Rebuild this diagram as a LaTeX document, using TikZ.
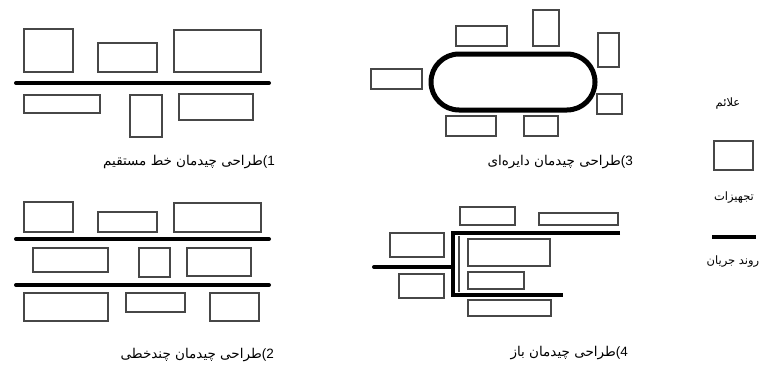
\documentclass[tikz,border=0pt]{standalone}
\usepackage{fontspec}
\setmainfont{Liberation Sans}
\newfontfamily\arabicfont[Script=Arabic]{DejaVu Sans}
\TeXXeTstate=1
\newcommand\fatext[1]{{\arabicfont\beginR #1\endR}}
\tikzset{
  equip/.style={draw=black!72, line width=1.7pt},
  flow/.style={draw=black, line width=4pt, line cap=round},
  caption/.style={font=\fontsize{13.5}{15}\selectfont, inner sep=0pt, anchor=east},
  legendtext/.style={font=\fontsize{11.5}{13}\selectfont, inner sep=0pt},
}
\begin{document}
\begin{tikzpicture}[x=1pt, y=-1pt]
\useasboundingbox (0,0) rectangle (767,364);

% ---- 1) straight-line layout
\draw[equip] (24,29) rectangle (73,72);
\draw[equip] (98,43) rectangle (157,72);
\draw[equip] (174,30) rectangle (261,72);
\draw[flow] (16,83) -- (269,83);
\draw[equip] (24,95) rectangle (100,113);
\draw[equip] (130,95) rectangle (162,137);
\draw[equip] (179,94) rectangle (253,120);
\node[caption] (cap1) at (275,162) {\fatext{طراحی چیدمان خط مستقیم}(1};

% ---- 2) multi-line layout
\draw[equip] (24,202) rectangle (73,232);
\draw[equip] (98,212) rectangle (157,232);
\draw[equip] (174,203) rectangle (261,232);
\draw[flow] (16,239) -- (269,239);
\draw[equip] (33,248) rectangle (108,272);
\draw[equip] (139,248) rectangle (170,277);
\draw[equip] (187,248) rectangle (251,276);
\draw[flow] (16,285) -- (269,285);
\draw[equip] (24,293) rectangle (108,321);
\draw[equip] (126,293) rectangle (185,312);
\draw[equip] (210,293) rectangle (259,321);
\node[caption] (cap2) at (274,355) {\fatext{طراحی چیدمان چندخطی}(2};

% ---- 3) circular layout
\draw[equip] (456,26) rectangle (507,46);
\draw[equip] (533,10) rectangle (559,46);
\draw[equip] (598,33) rectangle (619,67);
\draw[equip] (371,69) rectangle (422,89);
\draw[line width=5pt, rounded corners=28pt] (431,54) rectangle (595,110);
\draw[equip] (597,94) rectangle (622,114);
\draw[equip] (446,116) rectangle (496,136);
\draw[equip] (524,116) rectangle (558,136);
\node[caption] (cap3) at (633,162) {\fatext{طراحی چیدمان دایره‌ای}(3};

% ---- 4) open layout
\draw[equip] (460,207) rectangle (515,225);
\draw[equip] (539,213) rectangle (618,225);
\draw[equip] (390,233) rectangle (444,257);
\draw[equip] (468,239) rectangle (550,266);
\draw[equip] (399,274) rectangle (444,298);
\draw[equip] (468,272) rectangle (524,289);
\draw[equip] (468,300) rectangle (551,316);
\draw[flow] (374,267) -- (453,267);
\draw[flow, line cap=butt] (620,233) -- (453,233) -- (453,295) -- (563,295);
\draw[draw=black!72, line width=1.2pt] (459,236) -- (459,292);
\node[caption] (cap4) at (628,353) {\fatext{طراحی چیدمان باز}(4};

% ---- legend
\node[legendtext] (legtitle) at (728,104) {\fatext{علائم}};
\draw[equip] (714,141) rectangle (753,170);
\node[legendtext] (legequip) at (734,198) {\fatext{تجهیزات}};
\draw[flow, line cap=butt] (712,237) -- (756,237);
\node[legendtext] (legflow) at (733,262) {\fatext{روند جریان}};
\end{tikzpicture}
\end{document}
